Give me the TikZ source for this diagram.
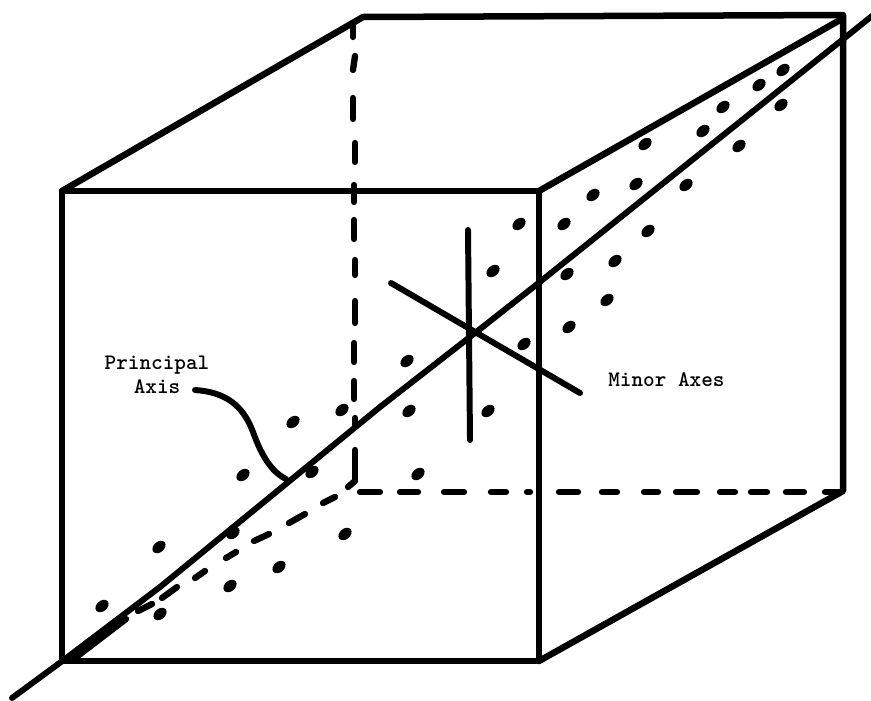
\documentclass[tikz,border=0pt]{standalone}
\usepackage{tikz}
\usetikzlibrary{positioning,calc,shapes.geometric}
\tikzset{
	edgeline/.style={line width=3.7pt,line cap=round,line join=round},
	hiddenline/.style={line width=3.6pt,line cap=round},
	axisline/.style={line width=3.4pt,line cap=round,line join=round},
	pointdot/.style={ellipse,fill=black,inner sep=0pt,minimum width=8.4pt,minimum height=6pt,rotate=40},
	axislabel/.style={font=\fontsize{12.6}{13.6}\selectfont\ttfamily\bfseries,align=center,inner sep=0pt}
}
\begin{document}
\begin{tikzpicture}[x=0.02cm,y=-0.02cm]
	\useasboundingbox (0,0) rectangle (871,700);
	\clip (0,0) rectangle (871,700);
	\foreach \i/\x/\y in {1/62/191,2/539/191,3/539/661,4/62/661,
		5/363/17,6/843/15,7/843/491,8/840/20}
	\coordinate (c\i) at (\x,\y);
	
	% front face and the visible back edges
	\draw[edgeline] (c1)--(c2)--(c3)--(c4)--cycle;
	\draw[edgeline] (c1)--(c5)--(c6)--(c7)--(c3);
	\draw[edgeline] (c2)--(c8);
	
	% hidden edges, dash by dash
	\foreach \xa/\ya/\xb/\yb in {353/25/353/37,355/56/353/70,353/98/353/119,
		355/143/355/162,354/185/354/202,354/220/354/239,355/260/355/275,
		355/301/355/323,354/343/354/362,354/381/354/399,355/418/355/425,
		355/450/355/480,355/481/348/487}
	\draw[hiddenline] (\xa,\ya)--(\xb,\yb);
	\foreach \xa/\xb in {360/380,400/418,444/464,491/506,527/530,559/578,602/617,
		644/658,676/697,720/735,751/767,786/804,825/840}
	\draw[hiddenline] (\xa,492)--(\xb,492);
	\foreach \xa/\ya/\xb/\yb in {323/503/335/497,289/523/305/514,254/541/269/534,
		226/558/236/552,195/578/205/571,162/598/177/587,138/611/152/604,75/658/126/619}
	\draw[hiddenline] (\xa,\ya)--(\xb,\yb);
	
	% axes
	\foreach \n/\x/\y in {1/12/698,2/65/659,3/160/587,4/380/407,5/475/333,6/536/285,7/872/16}
	\coordinate (p\n) at (\x,\y);
	\coordinate (mc) at (391,283);
	\coordinate (md) at (580,393);
	\coordinate (me) at (468,230);
	\coordinate (mf) at (470,440);
	\draw[axisline] (p1)--(p2)--(p3)--(p4)--(p5)--(p6)--(p7);
	\draw[axisline] (mc)--(md);
	\draw[axisline] (me)--(mf);
	
	\foreach \n/\x/\y in {1/102/606,2/159/547,3/160/614,4/230/586,5/279/567,
		6/345/534,7/243/475,8/293/422,9/342/410,10/312/472,11/233/533,
		12/519/224,13/564/224,14/493/271,15/567/274,16/615/261,17/648/231,
		18/607/300,19/569/327,20/524/344,21/407/361,22/409/411,23/488/411,
		24/593/195,25/645/144,26/636/184,27/686/185,28/703/131,29/723/107,
		30/739/146,31/759/85,32/783/70,33/781/105,34/418/474}
	\node[pointdot] (d\n) at (\x,\y) {};
	
	\node[axislabel] (principal) at (157,375) {Principal\\Axis};
	\node[axislabel,anchor=west] (minor) at (608,380) {Minor Axes};
	\coordinate (pe) at (195,390);
	\coordinate (pf) at (286,479);
	\draw[axisline] (pe) .. controls (225,392) and (243,405) .. (253,432) .. controls (262,457) and (272,472) .. (pf);
\end{tikzpicture}
\end{document}
